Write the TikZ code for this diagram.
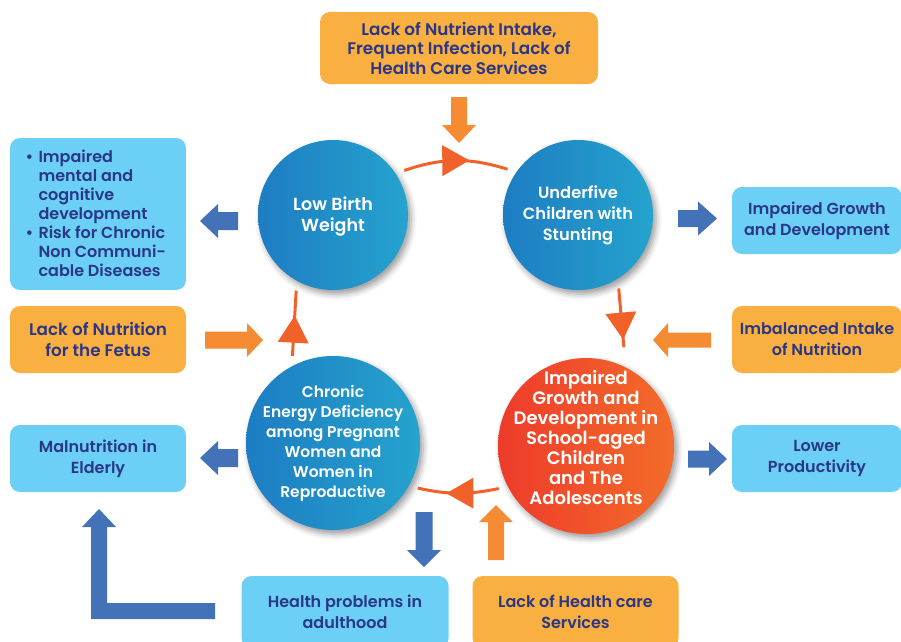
\documentclass[tikz,border=0pt]{standalone}
\usepackage{fontspec}
\setmainfont{Poppins}[UprightFont=* Medium, BoldFont=* SemiBold]
\usetikzlibrary{calc,decorations.markings,shadows.blur}

\definecolor{navy}{HTML}{2A3786}
\definecolor{skyfill}{HTML}{6CCFF6}
\definecolor{amberfill}{HTML}{FAAF41}
\definecolor{arrowblue}{HTML}{4472B9}
\definecolor{arroworange}{HTML}{F58B32}
\definecolor{cyclered}{HTML}{F1622B}
\definecolor{circblueL}{HTML}{1D7DC3}
\definecolor{circblueR}{HTML}{25A3CD}
\definecolor{circredL}{HTML}{EE3B2B}
\definecolor{circredR}{HTML}{F36C2A}

\tikzset{
  infobox/.style={rounded corners=10pt, inner sep=0pt, text=navy, align=center,
    font=\fontsize{16}{21}\selectfont\bfseries},
  skybox/.style={infobox, fill=skyfill},
  amberbox/.style={infobox, fill=amberfill},
  stage/.style={circle, inner sep=0pt, outer sep=9pt,
    blur shadow={shadow xshift=3pt, shadow yshift=-4pt, shadow blur radius=6pt, shadow opacity=40}},
  bluestage/.style={stage, left color=circblueL, right color=circblueR},
  redstage/.style={stage, left color=circredL, right color=circredR},
  stagetext/.style={text=white, align=center},
  cycleline/.style={draw=cyclered, line width=3pt},
  tri/.style={decoration={markings, mark=at position #1 with
      {\fill[cyclered] (-13.5,-15.5) -- (13.5,0) -- (-13.5,15.5) -- cycle;}},
    postaction=decorate},
  pics/fatarrow/.style args={#1/#2/#3/#4}{code={
    % #1 length, #2 head length, #3 shaft width, #4 head width
    \path[pic actions] (0,{-#3/2}) -- ({#1-#2},{-#3/2}) -- ({#1-#2},{-#4/2}) -- (#1,0)
      -- ({#1-#2},{#4/2}) -- ({#1-#2},{#3/2}) -- (0,{#3/2}) -- cycle;
  }}
}

\begin{document}
\begin{tikzpicture}[x=1pt, y=1pt]
\useasboundingbox (0,0) rectangle (901,-641);

% outer boxes
\node[amberbox, minimum width=278pt, minimum height=72pt, font=\fontsize{16.8}{19.5}\selectfont\bfseries]
  (causes) at (459,-48) {Lack of Nutrient Intake,\\Frequent Infection, Lack of\\Health Care Services};
\node[skybox, minimum width=176pt, minimum height=152pt] (cogn) at (98,-214) {};
\node[anchor=west, text=navy, align=left, font=\fontsize{16}{19}\selectfont\bfseries] (cogn-t) at (22,-213)
  {\makebox[13pt][l]{•}Impaired\\\hspace*{13pt}mental and\\\hspace*{13pt}cognitive\\\hspace*{13pt}development\\
   \makebox[13pt][l]{•}Risk for Chronic\\\hspace*{13pt}Non Communi-\\\hspace*{13pt}cable Diseases};
\node[amberbox, minimum width=176pt, minimum height=67pt, font=\fontsize{16.8}{21}\selectfont\bfseries]
  (fetus) at (98,-339.5) {Lack of Nutrition\\for the Fetus};
\node[skybox, minimum width=176pt, minimum height=67pt] (elderly) at (98,-458.5) {Malnutrition in\\Elderly};
\node[skybox, minimum width=170pt, minimum height=67pt] (growth) at (817,-220.5) {Impaired Growth\\and Development};
\node[amberbox, minimum width=170pt, minimum height=67pt] (imbal) at (817,-339.5) {Imbalanced Intake\\of Nutrition};
\node[skybox, minimum width=170pt, minimum height=67pt] (lower) at (817,-458.5) {Lower\\Productivity};
\node[skybox, minimum width=207pt, minimum height=72pt] (adult) at (345,-612) {Health problems in\\adulthood};
\node[amberbox, minimum width=206pt, minimum height=72pt] (hcare) at (575.5,-612) {Lack of Health care\\Services};

% block arrows
\pic[fill=arroworange, rotate=-90] at (459,-97) {fatarrow=46/18/16/34};
\pic[fill=arrowblue, rotate=180] at (238,-221) {fatarrow=38/18/18/34};
\pic[fill=arroworange] at (205,-340) {fatarrow=58/16/17/34};
\pic[fill=arrowblue, rotate=180] at (238,-458) {fatarrow=38/18/18/34};
\pic[fill=arrowblue] at (678,-218.5) {fatarrow=39/19/17/34};
\pic[fill=arroworange, rotate=180] at (711,-340) {fatarrow=58/15/15/34};
\pic[fill=arrowblue] at (688,-459) {fatarrow=39/18/17/34};
\pic[fill=arrowblue, rotate=-90] at (424,-512) {fatarrow=55/17/17/34};
\pic[fill=arroworange, rotate=90] at (496,-560) {fatarrow=55/17/16/34};
\fill[arrowblue] (91,-619) -- (215,-619) -- (215,-603) -- (107,-603) -- (107,-527)
  -- (116,-527) -- (99,-509) -- (82,-527) -- (91,-527) -- cycle;

% the cycle
\node[bluestage, minimum size=150pt] (lbw) at (333,-215) {};
\node[bluestage, minimum size=150pt] (u5) at (578,-215) {};
\node[bluestage, minimum size=174pt] (ced) at (333,-443) {};
\node[redstage, minimum size=176pt] (igd) at (586,-446) {};

\node[stagetext, font=\fontsize{17.5}{21}\selectfont\bfseries] (lbw-t) at (333,-217) {Low Birth\\Weight};
\node[stagetext, font=\fontsize{16.3}{21}\selectfont\bfseries] (u5-t) at (578,-215) {Underfive\\Children with\\Stunting};
\node[stagetext, font=\fontsize{15.5}{20}\selectfont\bfseries] (ced-t) at (333,-443)
  {Chronic\\Energy Deficiency\\among Pregnant\\Women and\\Women in\\Reproductive};
\node[stagetext, font=\fontsize{18}{20}\selectfont\bfseries] (igd-t) at (586,-438)
  {Impaired\\Growth and\\Development in\\School-aged\\Children\\and The\\Adolescents};

\draw[cycleline, tri=0.5] (lbw.32) to[bend left=18] (u5.147);
\draw[cycleline, tri=0.64] (u5.-61) -- ($(igd.center)!1.09!(igd.69)$);
\draw[cycleline, tri=0.48] (igd.206) to[bend left=12] (ced.-28);
\draw[cycleline, tri=0.41] (ced.115) -- (lbw.244);
\end{tikzpicture}
\end{document}
